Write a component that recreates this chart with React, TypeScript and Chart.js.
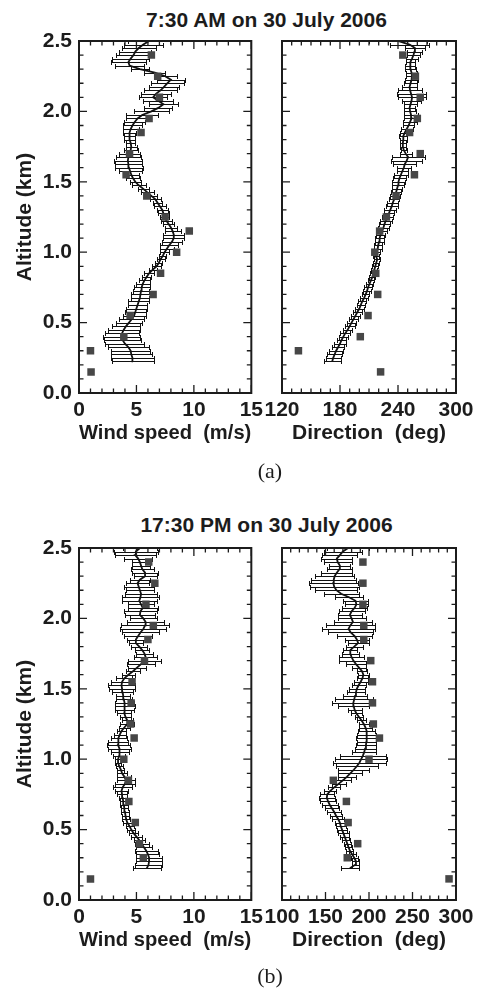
import React, { useEffect, useRef } from "react";
import { Chart, registerables } from "chart.js";

Chart.register(...registerables);

const FONT = '"Liberation Sans", Arial, Helvetica, sans-serif';
const INK = "#1c1c1c";
const SQ = "#474747";

// Range-gate altitudes (km)
const ALT = [
  0.225, 0.25, 0.275, 0.3, 0.325, 0.35, 0.375, 0.4, 0.425, 0.45,
  0.475, 0.5, 0.525, 0.55, 0.575, 0.6, 0.625, 0.65, 0.675, 0.7,
  0.725, 0.75, 0.775, 0.8, 0.825, 0.85, 0.875, 0.9, 0.925, 0.95,
  0.975, 1.0, 1.025, 1.05, 1.075, 1.1, 1.125, 1.15, 1.175, 1.2,
  1.225, 1.25, 1.275, 1.3, 1.325, 1.35, 1.375, 1.4, 1.425, 1.45,
  1.475, 1.5, 1.525, 1.55, 1.575, 1.6, 1.625, 1.65, 1.675, 1.7,
  1.725, 1.75, 1.775, 1.8, 1.825, 1.85, 1.875, 1.9, 1.925, 1.95,
  1.975, 2.0, 2.025, 2.05, 2.075, 2.1, 2.125, 2.15, 2.175, 2.2,
  2.225, 2.25, 2.275, 2.3, 2.325, 2.35, 2.375, 2.4, 2.425, 2.45,
  2.475, 2.5,
];

// (a) 7:30 AM — wind speed (m/s) and its half error
const A_WIND = [
  4.7, 4.65, 4.55, 4.5, 4.3, 4.0, 3.8, 3.7, 3.75, 3.9,
  4.1, 4.35, 4.6, 4.8, 4.9, 5.0, 5.1, 5.2, 5.3, 5.35,
  5.4, 5.45, 5.55, 5.7, 5.9, 6.1, 6.4, 6.75, 6.95, 7.1,
  7.3, 7.45, 7.65, 7.85, 8.1, 8.25, 8.25, 8.15, 8.0, 7.8,
  7.6, 7.45, 7.35, 7.25, 7.05, 6.85, 6.65, 6.3, 5.95, 5.6,
  5.2, 4.9, 4.7, 4.55, 4.45, 4.35, 4.3, 4.25, 4.3, 4.4,
  4.5, 4.55, 4.5, 4.4, 4.4, 4.4, 4.5, 4.65, 4.85, 5.1,
  5.5, 6.3, 6.9, 7.35, 6.9, 6.45, 6.7, 7.1, 7.4, 7.7,
  8.0, 7.5, 6.6, 5.3, 4.4, 4.3, 4.5, 4.75, 4.9, 5.2,
  5.6, 6.1,
];
const A_WIND_ERR = [
  1.8, 1.9, 1.8, 1.7, 1.8, 1.7, 1.6, 1.6, 1.5, 1.4,
  1.2, 1.1, 1.1, 1.0, 0.9, 0.9, 0.8, 0.9, 0.8, 0.8,
  0.7, 0.7, 0.6, 0.5, 0.4, 0.4, 0.35, 0.4, 0.3, 0.35,
  0.3, 0.4, 0.6, 0.8, 0.9, 0.9, 0.9, 0.7, 0.5, 0.45,
  0.5, 0.4, 0.45, 0.5, 0.5, 0.4, 0.45, 0.5, 0.55, 0.5,
  0.6, 0.5, 0.6, 0.7, 1.0, 1.2, 1.2, 1.2, 1.1, 0.9,
  0.6, 0.5, 0.4, 0.5, 0.5, 0.6, 0.7, 0.8, 0.9, 1.0,
  1.4, 1.5, 1.2, 1.3, 1.3, 1.2, 1.3, 1.4, 1.3, 1.4,
  1.2, 1.0, 0.9, 0.8, 1.3, 1.5, 1.6, 1.5, 1.4, 1.5,
  1.7, 1.8,
];
// (a) wind direction (deg) and its half error
const A_DIR = [
  172, 173, 174.5, 176, 178, 180, 181.5, 183.5, 185.5, 188,
  190, 192, 194, 196, 198, 200, 201.5, 203, 205, 206.5,
  208, 209, 210.5, 212, 213.5, 214.5, 215.5, 216.5, 217.5, 218.5,
  217, 217.5, 219, 219.5, 220.5, 221, 222, 223.5, 225, 226,
  227.5, 229, 230.5, 232, 233.5, 234.5, 236, 237, 238, 239,
  240, 240.5, 241.5, 243, 244.5, 246, 247, 249, 250.5, 248,
  246, 245, 245, 245.5, 245.5, 247, 249, 251, 252.5, 254,
  253.5, 252.5, 252, 253, 254, 254.5, 253.5, 252.5, 252, 253,
  254, 254.5, 254, 253, 252.5, 253, 254.5, 256, 257, 257.5,
  252, 240,
];
const A_DIR_ERR = [
  9, 8, 8, 7, 6, 6, 5, 5, 5, 4.5,
  5, 5, 4.5, 5, 5, 4.5, 4, 4, 4, 4,
  4, 4, 3.5, 3.5, 3, 3, 3, 3, 3, 3,
  3, 3.5, 4, 4, 4.5, 5, 5, 5.5, 6, 6,
  6, 6, 5.5, 6, 6, 6, 5.5, 5, 5, 5.5,
  6, 6.5, 7, 7, 6, 7, 12, 16, 17, 6,
  3, 3, 3, 3.5, 4, 5, 6, 6, 7, 8,
  7, 6, 6, 7, 10, 14, 15, 12, 8, 7,
  7, 6, 6, 6, 5, 5, 6, 7, 8, 10,
  20, 30,
];
// (a) squares (sonde)
const A_SQ_ALT = [0.15, 0.3, 0.4, 0.55, 0.7, 0.85, 1.0, 1.15, 1.25, 1.4, 1.55, 1.7, 1.85, 1.95, 2.1, 2.25, 2.4];
const A_SQ_WIND = [1.05, 1.0, 3.9, 4.45, 6.45, 7.1, 8.5, 9.6, 7.5, 5.9, 4.1, 4.4, 5.4, 6.1, 7.0, 6.85, 6.3];
const A_SQ_DIR = [222, 137, 201, 209, 219, 217, 216, 221, 228, 238, 257, 263, 252, 260, 263, 258, 245];

// (b) 17:30 PM — wind speed (m/s) and its half error
const B_WIND = [
  5.9, 6.05, 6.1, 6.1, 6.0, 5.85, 5.65, 5.45, 5.25, 5.0,
  4.75, 4.55, 4.4, 4.2, 4.1, 4.05, 4.0, 3.95, 3.9, 3.85,
  3.8, 3.75, 3.7, 3.8, 4.0, 4.1, 3.95, 3.75, 3.65, 3.5,
  3.4, 3.4, 3.5, 3.55, 3.5, 3.4, 3.4, 3.45, 3.55, 3.7,
  3.95, 4.2, 4.2, 4.05, 3.95, 3.95, 4.0, 3.95, 3.9, 3.85,
  3.8, 3.75, 3.7, 3.75, 3.95, 4.3, 4.7, 5.05, 5.4, 5.7,
  5.8, 5.7, 5.5, 5.25, 4.95, 4.95, 5.15, 5.35, 5.6, 5.75,
  5.8, 5.6, 5.3, 5.35, 5.55, 5.4, 5.25, 5.35, 5.4, 5.3,
  5.2, 5.1, 5.3, 5.75, 5.75, 5.5, 5.4, 5.3, 5.15, 4.9,
  4.95, 5.3,
];
const B_WIND_ERR = [
  1.2, 1.2, 1.1, 1.1, 1.0, 1.0, 0.7, 0.6, 0.5, 0.45,
  0.4, 0.35, 0.35, 0.4, 0.35, 0.3, 0.35, 0.3, 0.35, 0.3,
  0.35, 0.4, 0.6, 0.8, 0.9, 0.8, 0.6, 0.4, 0.3, 0.3,
  0.25, 0.3, 0.5, 0.8, 1.0, 1.0, 0.9, 0.7, 0.5, 0.4,
  0.5, 0.6, 0.5, 0.45, 0.6, 0.8, 0.9, 0.8, 0.7, 0.6,
  0.9, 1.1, 1.2, 1.0, 0.7, 0.6, 0.6, 0.8, 1.2, 1.4,
  1.0, 0.7, 0.6, 0.7, 0.6, 0.8, 1.2, 1.6, 2.0, 2.1,
  1.6, 1.2, 1.3, 1.4, 1.3, 1.1, 1.5, 1.6, 1.4, 1.2,
  1.3, 1.0, 0.9, 1.0, 1.1, 1.0, 0.8, 0.7, 1.2, 1.8,
  1.9, 1.5,
];
// (b) wind direction (deg) and its half error
const B_DIR = [
  178, 184, 185, 183, 180.5, 178, 176.5, 175, 173.5, 172,
  170.5, 169, 167.5, 166.5, 164.5, 162, 160, 157.5, 155, 153,
  151.5, 152, 155.5, 160, 165, 170, 174.5, 178.5, 182.5, 186,
  189, 191, 193, 194.5, 195.5, 196.5, 197, 197.5, 197.5, 197,
  196, 194, 191.5, 188.5, 185.5, 183.5, 182.5, 182, 183, 184,
  185, 186, 188, 190.5, 192.5, 193.5, 192, 188.5, 185, 182,
  180, 178.5, 178.5, 183, 187.5, 186, 183.5, 179, 176.5, 178.5,
  181.5, 180, 178, 180, 183.5, 185.5, 184.5, 177, 168, 162.5,
  160, 159, 159.5, 160.5, 163, 166, 166.5, 164, 163, 166.5,
  170, 176,
];
const B_DIR_ERR = [
  10, 4, 4, 4, 4, 4, 4, 4, 5, 5,
  6, 6, 6, 6, 7, 7, 8, 8, 9, 9,
  9, 8, 7, 7, 8, 9, 10, 14, 18, 24,
  30, 30, 26, 14, 12, 11, 11, 12, 11, 10,
  8, 6, 5, 5, 6, 8, 18, 24, 22, 14,
  10, 9, 8, 8, 6, 6, 6, 8, 12, 16,
  14, 10, 8, 10, 12, 14, 20, 26, 30, 28,
  22, 16, 14, 15, 14, 13, 14, 16, 20, 24,
  28, 28, 26, 22, 18, 14, 12, 16, 18, 20,
  22, 24,
];
// (b) squares (sonde)
const B_SQ_ALT = [0.15, 0.3, 0.4, 0.55, 0.7, 0.85, 1.0, 1.15, 1.25, 1.4, 1.55, 1.7, 1.85, 1.95, 2.1, 2.25, 2.4];
const B_SQ_WIND = [1.0, 5.6, 5.26, 4.9, 4.34, 4.3, 3.9, 4.8, 4.5, 4.54, 4.62, 5.7, 6.0, 6.47, 5.83, 6.6, 6.07];
const B_SQ_DIR = [292, 175, 187, 176, 174, 159, 200, 212, 205, 204, 204, 202, 194, 194, 193, 193, 193];

const Y_MAX = 2.5;
const Y_MAJOR = 0.5;
const Y_MINOR = 0.1;

type PanelProps = {
  left: number;
  top: number;
  width: number;
  height: number;
  plotLeft: number;
  plotRight: number;
  plotTop: number;
  plotBottom: number;
  xMin: number;
  xMax: number;
  xStep: number;
  xMinor: number;
  showY: boolean;
  xTitle: string;
  vals: number[];
  errs: number[];
  sqAlt: number[];
  sqVals: number[];
};

const tickFont = { family: FONT, size: 21, weight: "bold" as const };

function Panel(p: PanelProps) {
  const ref = useRef<HTMLCanvasElement>(null);
  useEffect(() => {
    const canvas = ref.current;
    if (!canvas) return;

    const errBars = {
      id: "errBars",
      beforeDatasetsDraw(chart: any) {
        const { ctx, chartArea: ca, scales } = chart;
        const xs = scales.x;
        const ys = scales.y;
        ctx.save();
        ctx.beginPath();
        ctx.rect(ca.left, ca.top, ca.right - ca.left, ca.bottom - ca.top);
        ctx.clip();
        ctx.strokeStyle = "#111";
        ctx.lineWidth = 1;
        ctx.beginPath();
        ALT.forEach((a, i) => {
          const y = Math.round(ys.getPixelForValue(a)) + 0.5;
          const x1 = Math.round(xs.getPixelForValue(p.vals[i] - p.errs[i])) + 0.5;
          const x2 = Math.round(xs.getPixelForValue(p.vals[i] + p.errs[i])) + 0.5;
          ctx.moveTo(x1, y);
          ctx.lineTo(x2, y);
          ctx.moveTo(x1, y - 2.5);
          ctx.lineTo(x1, y + 2.5);
          ctx.moveTo(x2, y - 2.5);
          ctx.lineTo(x2, y + 2.5);
        });
        ctx.stroke();
        ctx.restore();
      },
    };

    const frame = {
      id: "frame",
      afterDraw(chart: any) {
        const { ctx, chartArea: ca, scales } = chart;
        const xs = scales.x;
        const ys = scales.y;
        ctx.save();
        ctx.strokeStyle = INK;
        ctx.lineWidth = 1.3;
        ctx.beginPath();
        const nx = Math.round((p.xMax - p.xMin) / p.xMinor);
        for (let i = 0; i <= nx; i++) {
          const v = p.xMin + i * p.xMinor;
          const r = (v - p.xMin) / p.xStep;
          const major = Math.abs(r - Math.round(r)) < 1e-6;
          const len = major ? 8 : 4.5;
          const px = xs.getPixelForValue(v);
          ctx.moveTo(px, ca.bottom);
          ctx.lineTo(px, ca.bottom - len);
          ctx.moveTo(px, ca.top);
          ctx.lineTo(px, ca.top + len);
        }
        const ny = Math.round(Y_MAX / Y_MINOR);
        const per = Math.round(Y_MAJOR / Y_MINOR);
        for (let i = 0; i <= ny; i++) {
          const v = i * Y_MINOR;
          const len = i % per === 0 ? 8 : 4.5;
          const py = ys.getPixelForValue(v);
          ctx.moveTo(ca.left, py);
          ctx.lineTo(ca.left + len, py);
          ctx.moveTo(ca.right, py);
          ctx.lineTo(ca.right - len, py);
        }
        ctx.stroke();
        ctx.lineWidth = 2;
        ctx.strokeRect(ca.left, ca.top, ca.right - ca.left, ca.bottom - ca.top);
        ctx.restore();
      },
    };

    const hidden = {
      type: "linear" as const,
      display: true,
      min: 0,
      max: 1,
      ticks: { display: false },
      grid: { display: false, drawTicks: false },
      border: { display: false },
    };

    const chart = new Chart(canvas, {
      type: "scatter",
      data: {
        datasets: [
          {
            data: p.sqAlt.map((a, i) => ({ x: p.sqVals[i], y: a })),
            pointStyle: "rect",
            pointRadius: 5.3,
            pointHoverRadius: 5.3,
            backgroundColor: SQ,
            borderColor: SQ,
            borderWidth: 0,
            xAxisID: "x",
            yAxisID: "y",
            order: 0,
          },
          {
            data: ALT.map((a, i) => ({ x: p.vals[i], y: a })),
            showLine: true,
            borderColor: "#111",
            borderWidth: 1.8,
            pointRadius: 0,
            pointHoverRadius: 0,
            xAxisID: "x",
            yAxisID: "y",
            order: 1,
          },
        ],
      },
      options: {
        animation: false,
        responsive: false,
        events: [],
        layout: { padding: 0 },
        plugins: {
          legend: { display: false },
          tooltip: { enabled: false },
          title: { display: false },
        },
        scales: {
          x: {
            type: "linear",
            position: "bottom",
            min: p.xMin,
            max: p.xMax,
            afterFit: (s: any) => {
              s.height = p.height - p.plotBottom;
            },
            grid: { display: false, drawTicks: false },
            border: { display: false },
            ticks: {
              stepSize: p.xStep,
              autoSkip: false,
              maxRotation: 0,
              minRotation: 0,
              padding: 5,
              color: INK,
              font: tickFont,
              callback: (v: any) => String(v),
            },
            title: {
              display: true,
              text: p.xTitle,
              color: INK,
              font: tickFont,
              padding: { top: 0, bottom: 24 },
            },
          },
          xTop: {
            ...hidden,
            position: "top",
            afterFit: (s: any) => {
              s.height = p.plotTop;
            },
          },
          y: {
            type: "linear",
            position: "left",
            min: 0,
            max: Y_MAX,
            afterFit: (s: any) => {
              s.width = p.plotLeft;
            },
            grid: { display: false, drawTicks: false },
            border: { display: false },
            ticks: {
              display: p.showY,
              stepSize: Y_MAJOR,
              padding: 7,
              color: INK,
              font: tickFont,
              callback: (v: any) => Number(v).toFixed(1),
            },
            title: {
              display: p.showY,
              text: "Altitude (km)",
              color: INK,
              font: tickFont,
              padding: { top: 12.4, bottom: 0 },
            },
          },
          yRight: {
            ...hidden,
            position: "right",
            afterFit: (s: any) => {
              s.width = p.width - p.plotRight;
            },
          },
        },
      } as any,
      plugins: [errBars, frame],
    });
    return () => chart.destroy();
  }, []);

  return (
    <canvas
      ref={ref}
      width={p.width}
      height={p.height}
      style={{ position: "absolute", left: p.left, top: p.top, width: p.width, height: p.height }}
    />
  );
}

type RowProps = {
  top: number;
  title: string;
  titleTop: number;
  label: string;
  labelTop: number;
  wind: number[];
  windErr: number[];
  dir: number[];
  dirErr: number[];
  sqAlt: number[];
  sqWind: number[];
  sqDir: number[];
  dirMin: number;
  dirMax: number;
  dirStep: number;
  dirMinor: number;
};

function Row(r: RowProps) {
  return (
    <>
      <div
        style={{
          position: "absolute",
          left: 66.5,
          width: 400,
          top: r.titleTop,
          textAlign: "center",
          font: `bold 21px ${FONT}`,
          lineHeight: "21px",
          color: INK,
          whiteSpace: "nowrap",
        }}
      >
        {r.title}
      </div>
      <Panel
        left={0}
        top={r.top}
        width={268}
        height={470}
        plotLeft={79}
        plotRight={253}
        plotTop={41}
        plotBottom={393}
        xMin={0}
        xMax={15}
        xStep={5}
        xMinor={1}
        showY={true}
        xTitle="Wind speed  (m/s)"
        vals={r.wind}
        errs={r.windErr}
        sqAlt={r.sqAlt}
        sqVals={r.sqWind}
      />
      <Panel
        left={255}
        top={r.top}
        width={226}
        height={470}
        plotLeft={27}
        plotRight={201}
        plotTop={41}
        plotBottom={393}
        xMin={r.dirMin}
        xMax={r.dirMax}
        xStep={r.dirStep}
        xMinor={r.dirMinor}
        showY={false}
        xTitle="Direction  (deg)"
        vals={r.dir}
        errs={r.dirErr}
        sqAlt={r.sqAlt}
        sqVals={r.sqDir}
      />
      <div
        style={{
          position: "absolute",
          left: 220,
          width: 100,
          top: r.labelTop,
          textAlign: "center",
          font: `22px "Liberation Serif", "Times New Roman", serif`,
          lineHeight: "22px",
          color: INK,
        }}
      >
        {r.label}
      </div>
    </>
  );
}

export default function App() {
  return (
    <div
      style={{
        position: "absolute",
        left: 0,
        top: 0,
        width: 481,
        height: 990,
        background: "#fff",
        overflow: "hidden",
      }}
    >
      <Row
        top={0}
        title="7:30 AM on 30 July 2006"
        titleTop={9}
        label="(a)"
        labelTop={459.5}
        wind={A_WIND}
        windErr={A_WIND_ERR}
        dir={A_DIR}
        dirErr={A_DIR_ERR}
        sqAlt={A_SQ_ALT}
        sqWind={A_SQ_WIND}
        sqDir={A_SQ_DIR}
        dirMin={120}
        dirMax={300}
        dirStep={60}
        dirMinor={10}
      />
      <Row
        top={507}
        title="17:30 PM on 30 July 2006"
        titleTop={514}
        label="(b)"
        labelTop={964.5}
        wind={B_WIND}
        windErr={B_WIND_ERR}
        dir={B_DIR}
        dirErr={B_DIR_ERR}
        sqAlt={B_SQ_ALT}
        sqWind={B_SQ_WIND}
        sqDir={B_SQ_DIR}
        dirMin={100}
        dirMax={300}
        dirStep={50}
        dirMinor={10}
      />
    </div>
  );
}
